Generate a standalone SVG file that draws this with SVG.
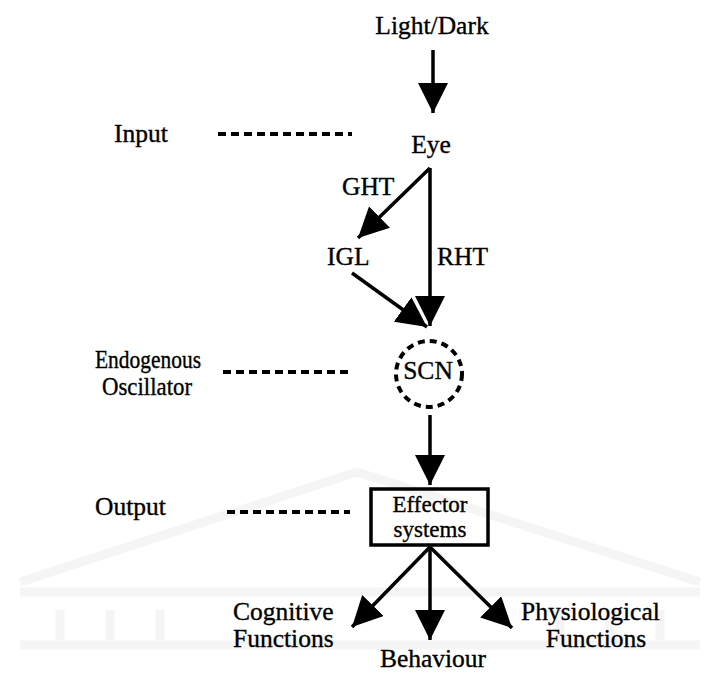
<svg xmlns="http://www.w3.org/2000/svg" width="714" height="673" viewBox="0 0 714 673">
<defs>
<style>
text{font-family:"Liberation Serif","Times New Roman",serif;font-size:25.5px;fill:#000;stroke:#000;stroke-width:0.35}
.m{text-anchor:middle}
.c{stroke:#000;stroke-width:3.5;fill:none}
.d{stroke:#000;stroke-width:4;stroke-dasharray:8 5;fill:none}
.w{fill:none;stroke:#f5f5f5;stroke-width:9}
</style>
<marker id="ah" viewBox="0 0 30 30" refX="30" refY="15" markerWidth="30" markerHeight="30" markerUnits="userSpaceOnUse" orient="auto">
<path d="M0,0 L30,15 L0,30 z" fill="#000"/>
</marker>
</defs>
<rect width="714" height="673" fill="#fff"/>
<g id="watermark">
<path class="w" d="M20,582 L357,472 L700,582"/>
<path class="w" d="M20,592 H700"/>
<path class="w" d="M20,645 H700"/>
<path class="w" d="M60,610 V640 M110,610 V640 M160,610 V640 M560,610 V640 M610,610 V640 M660,610 V640"/>
</g>
<g id="light"><text class="m" x="432" y="34">Light/Dark</text></g>
<g id="input-label"><text x="114" y="142">Input</text></g>
<g id="eye"><text class="m" x="431" y="153">Eye</text></g>
<g id="ght-label"><text x="342" y="195">GHT</text></g>
<g id="igl"><text x="327" y="265">IGL</text></g>
<g id="rht-label"><text x="437" y="265">RHT</text></g>
<g id="osc-label"><text x="95" y="368" textLength="106" lengthAdjust="spacingAndGlyphs">Endogenous</text><text x="102" y="395" textLength="90" lengthAdjust="spacingAndGlyphs">Oscillator</text></g>
<g id="scn"><circle cx="429" cy="374" r="33" fill="none" stroke="#000" stroke-width="4" stroke-dasharray="7 5"/><text class="m" x="428" y="379">SCN</text></g>
<g id="output-label"><text x="95" y="515">Output</text></g>
<g id="effector"><rect x="371" y="489" width="117" height="56" fill="none" stroke="#000" stroke-width="3.5"/><text class="m" x="430" y="512" style="font-size:23px">Effector</text><text class="m" x="430" y="537" style="font-size:23px">systems</text></g>
<g id="cognitive"><text x="233" y="620">Cognitive</text><text x="233" y="647">Functions</text></g>
<g id="behaviour"><text class="m" x="433" y="667">Behaviour</text></g>
<g id="physio"><text x="521" y="620">Physiological</text><text class="m" x="596" y="647">Functions</text></g>
<g id="connectors">
<path class="d" d="M218,134 H352"/>
<path class="d" d="M223,372 H353"/>
<path class="d" d="M227,512 H350"/>
<path class="c" d="M433,50 V113" marker-end="url(#ah)"/>
<path class="c" d="M430,168 L358,238" marker-end="url(#ah)"/>
<path class="c" d="M430,168 V326" marker-end="url(#ah)"/>
<path class="c" d="M352,273 L427,327" marker-end="url(#ah)"/>
<path class="c" d="M430,415 V485" marker-end="url(#ah)"/>
<path class="c" d="M430,547 L352,627" marker-end="url(#ah)"/>
<path class="c" d="M430,547 V640" marker-end="url(#ah)"/>
<path class="c" d="M430,547 L512,628" marker-end="url(#ah)"/>
</g>
</svg>
